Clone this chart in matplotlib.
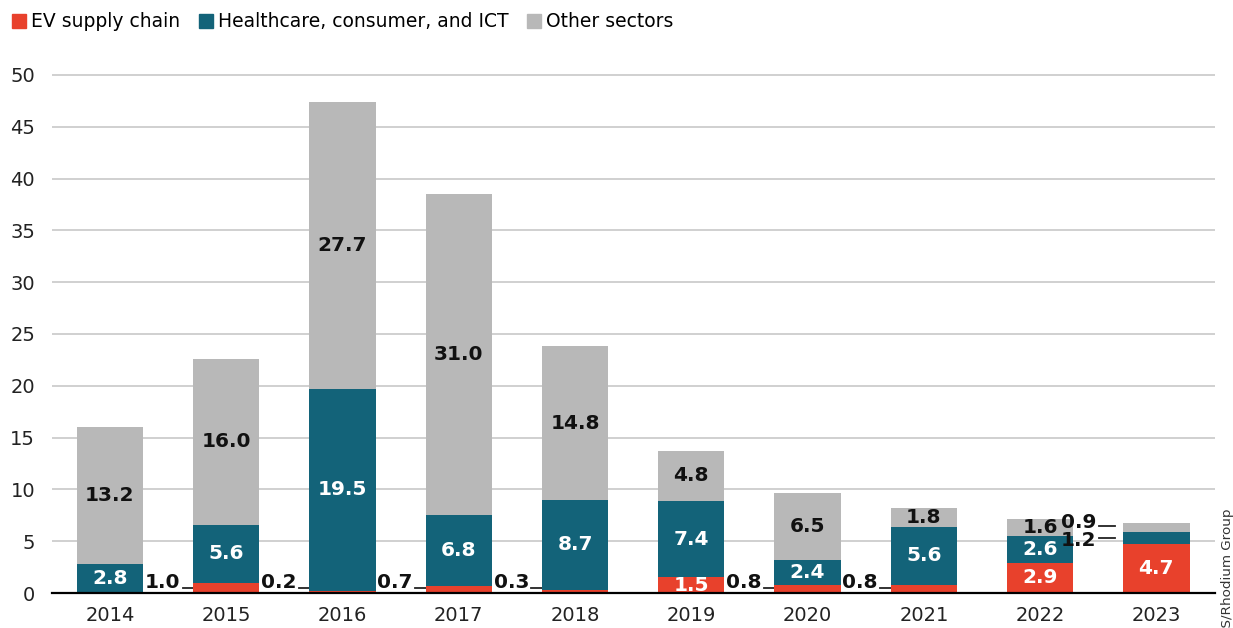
import matplotlib
matplotlib.use("Agg")
import matplotlib.pyplot as plt
from matplotlib.patches import Patch

years = ["2014", "2015", "2016", "2017", "2018", "2019", "2020", "2021", "2022", "2023"]
ev = [0.0, 1.0, 0.2, 0.7, 0.3, 1.5, 0.8, 0.8, 2.9, 4.7]
health = [2.8, 5.6, 19.5, 6.8, 8.7, 7.4, 2.4, 5.6, 2.6, 1.2]
other = [13.2, 16.0, 27.7, 31.0, 14.8, 4.8, 6.5, 1.8, 1.6, 0.9]
series_names = ["EV supply chain", "Healthcare, consumer, and ICT", "Other sectors"]

RED = "#E8412C"
TEAL = "#136379"
GRAY = "#B8B8B8"

plt.rcParams['font.family'] = ['DejaVu Sans']

fig = plt.figure(figsize=(12.33, 6.28), dpi=100)
ax = fig.add_axes([0.042, 0.0557, 0.943, 0.8333])

x = list(range(len(years)))
w = 0.57
ax.bar(x, ev, width=w, color=RED, zorder=3)
ax.bar(x, health, width=w, bottom=ev, color=TEAL, zorder=3)
bot2 = [a + b for a, b in zip(ev, health)]
ax.bar(x, other, width=w, bottom=bot2, color=GRAY, zorder=3)

ax.set_xlim(-0.5, 9.5)
ax.set_ylim(0, 50.5)
ax.set_yticks(range(0, 51, 5))
ax.set_xticks(x)
ax.set_xticklabels(years)
ax.tick_params(axis='both', length=0, labelsize=14, colors='#222222')
ax.tick_params(axis='x', pad=9)
ax.tick_params(axis='y', pad=12)
ax.grid(axis='y', color='#C8C8C8', linewidth=1.2, zorder=0)
for s in ['top', 'right', 'left']:
    ax.spines[s].set_visible(False)
ax.spines['bottom'].set_color('black')
ax.spines['bottom'].set_linewidth(1.6)
ax.spines['bottom'].set_zorder(4)

fs = 14.5
# inside labels
for i in x:
    segs = [(ev[i], 0, 'white'), (health[i], ev[i], 'white'), (other[i], bot2[i], '#111111')]
    for k, (v, b, c) in enumerate(segs):
        if v <= 0:
            continue
        outside = (k == 0 and v < 1.2) or (i == 9 and k > 0)
        if not outside:
            ax.text(i, b + v / 2, f"{v:.1f}", ha='center', va='center', color=c,
                    fontsize=fs, fontweight='bold', zorder=5)

# outside labels with leader lines
def left_edge(i):
    return i - w / 2

for i in x:
    if 0 < ev[i] < 1.2:
        ax.text(left_edge(i) - 0.11, 1.0, f"{ev[i]:.1f}", ha='right', va='center',
                fontsize=fs, fontweight='bold', color='#111111', zorder=5)
        ax.plot([left_edge(i) - 0.09, left_edge(i) + 0.05], [0.45, 0.45],
                color='#222222', lw=1.3, zorder=2.5)
i = 9
ax.text(left_edge(i) - 0.23, 6.85, f"{other[i]:.1f}", ha='right', va='center',
        fontsize=fs, fontweight='bold', color='#111111', zorder=5)
ax.plot([left_edge(i) - 0.21, left_edge(i) - 0.07], [6.45, 6.45], color='#222222', lw=1.3, zorder=5)
ax.text(left_edge(i) - 0.23, 5.1, f"{health[i]:.1f}", ha='right', va='center',
        fontsize=fs, fontweight='bold', color='#111111', zorder=5)
ax.plot([left_edge(i) - 0.21, left_edge(i) - 0.07], [5.3, 5.3], color='#222222', lw=1.3, zorder=5)

handles = [Patch(color=RED), Patch(color=TEAL), Patch(color=GRAY)]
fig.legend(handles, series_names, loc='upper left', bbox_to_anchor=(0.0, 1.0),
           ncol=3, frameon=False, fontsize=13.5, handlelength=0.75, handleheight=0.75,
           handletextpad=0.25, columnspacing=1.0, borderaxespad=0.25)

fig.text(1228 / 1233, 1 - 508 / 628, "Source: MERICS/Rhodium Group", rotation=90,
         ha='center', va='top', fontsize=9.7, color='#333333')

fig.savefig("out.png", dpi=100)
